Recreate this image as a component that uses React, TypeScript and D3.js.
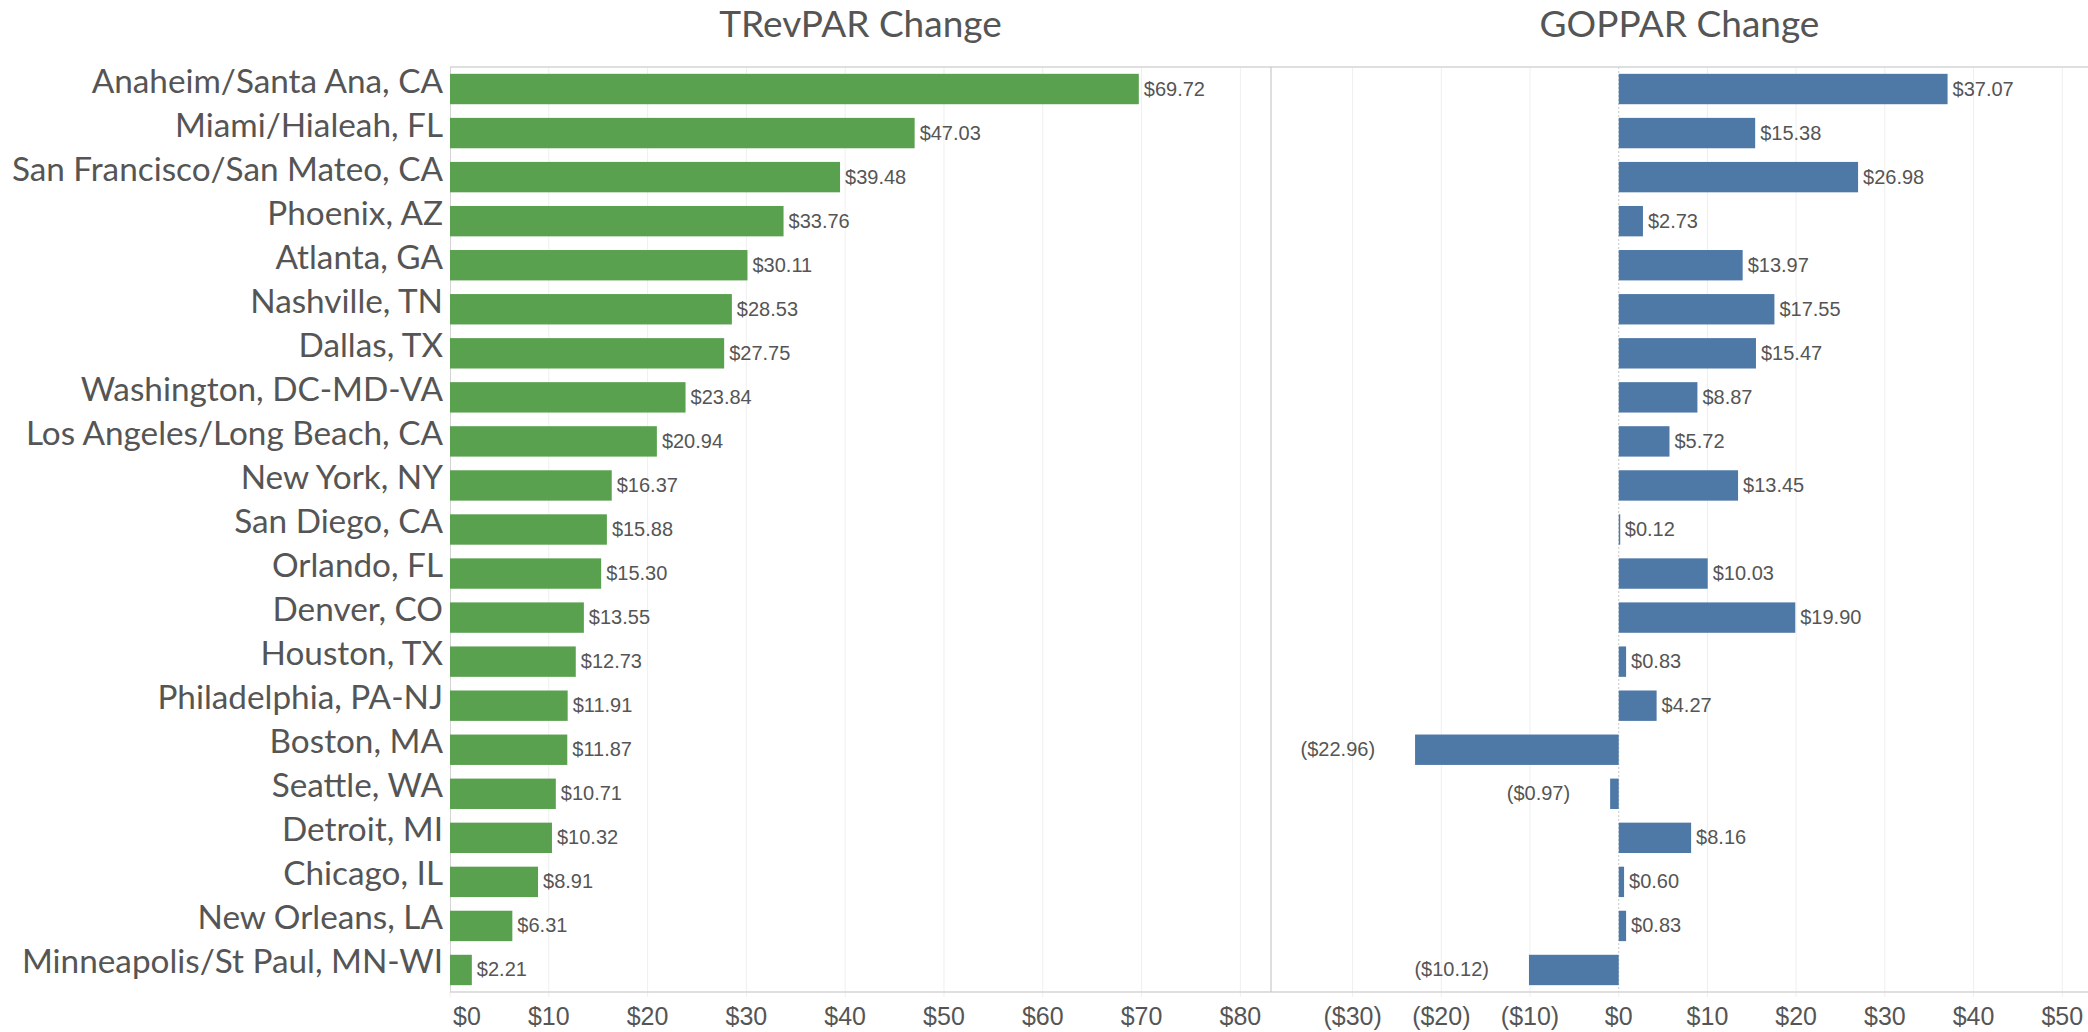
import { useMemo } from 'react';
import * as d3 from 'd3';

const MARKETS = [
  'Anaheim/Santa Ana, CA', 'Miami/Hialeah, FL', 'San Francisco/San Mateo, CA', 'Phoenix, AZ',
  'Atlanta, GA', 'Nashville, TN', 'Dallas, TX', 'Washington, DC-MD-VA', 'Los Angeles/Long Beach, CA',
  'New York, NY', 'San Diego, CA', 'Orlando, FL', 'Denver, CO', 'Houston, TX', 'Philadelphia, PA-NJ',
  'Boston, MA', 'Seattle, WA', 'Detroit, MI', 'Chicago, IL', 'New Orleans, LA', 'Minneapolis/St Paul, MN-WI',
];

const TREVPAR = [69.72, 47.03, 39.48, 33.76, 30.11, 28.53, 27.75, 23.84, 20.94, 16.37, 15.88, 15.3, 13.55, 12.73, 11.91, 11.87, 10.71, 10.32, 8.91, 6.31, 2.21];
const GOPPAR = [37.07, 15.38, 26.98, 2.73, 13.97, 17.55, 15.47, 8.87, 5.72, 13.45, 0.12, 10.03, 19.9, 0.83, 4.27, -22.96, -0.97, 8.16, 0.6, 0.83, -10.12];

const TREV_TICKS = [0, 10, 20, 30, 40, 50, 60, 70, 80];
const GOP_TICKS = [-30, -20, -10, 0, 10, 20, 30, 40, 50];

const W = 2088, H = 1032;
const TOP = 67, BOTTOM = 992;
const LEFT_X0 = 450, MID_X = 1271, RIGHT_X1 = 2088;

const TEXT = '#555555';
const GRID = '#efefef';
const BORDER = '#d4d4d4';
const NUM_FONT = "'Liberation Sans', Arial, sans-serif";

const money = (v: number, dec: number) => {
  const s = '$' + Math.abs(v).toFixed(dec);
  return v < 0 ? `(${s})` : s;
};

export default function App() {
  const y = useMemo(() => d3.scaleBand<string>().domain(MARKETS).range([TOP, BOTTOM]).paddingInner(0.31).paddingOuter(0.155), []);
  const xL = useMemo(() => d3.scaleLinear().domain([0, 83.1]).range([LEFT_X0, MID_X]), []);
  const xR = useMemo(() => d3.scaleLinear().domain([-39.2, 52.9]).range([MID_X, RIGHT_X1]), []);
  const bw = y.bandwidth();

  return (
    <svg width={W} height={H} style={{ position: 'absolute', left: 0, top: 0, background: '#fff' }}>
      {/* titles */}
      <text x={(LEFT_X0 + MID_X) / 2} y={37} textAnchor="middle" fontFamily="Lato" fontSize={37} fill={TEXT}>TRevPAR Change</text>
      <text x={(MID_X + RIGHT_X1) / 2} y={37} textAnchor="middle" fontFamily="Lato" fontSize={37} fill={TEXT}>GOPPAR Change</text>

      {/* grid lines + tick marks */}
      {TREV_TICKS.filter((t) => t > 0).map((t) => (
        <line key={'gl' + t} x1={xL(t)} x2={xL(t)} y1={TOP} y2={BOTTOM + 5} stroke={GRID} strokeWidth={1} />
      ))}
      {GOP_TICKS.filter((t) => t !== 0).map((t) => (
        <line key={'gr' + t} x1={xR(t)} x2={xR(t)} y1={TOP} y2={BOTTOM + 5} stroke={GRID} strokeWidth={1} />
      ))}
      <line x1={xR(0)} x2={xR(0)} y1={TOP} y2={BOTTOM} stroke="#c8c8c8" strokeWidth={1} strokeDasharray="2,2" />
      <line x1={xL(0)} x2={xL(0)} y1={BOTTOM} y2={BOTTOM + 5} stroke={GRID} />
      <line x1={xR(0)} x2={xR(0)} y1={BOTTOM} y2={BOTTOM + 5} stroke={GRID} />

      {/* borders */}
      <line x1={LEFT_X0} x2={RIGHT_X1} y1={TOP} y2={TOP} stroke={BORDER} strokeWidth={1.5} />
      <line x1={LEFT_X0} x2={RIGHT_X1} y1={BOTTOM} y2={BOTTOM} stroke={BORDER} strokeWidth={1.5} />
      <line x1={LEFT_X0 + 0.5} x2={LEFT_X0 + 0.5} y1={TOP} y2={BOTTOM} stroke={BORDER} strokeWidth={1} />
      <line x1={MID_X} x2={MID_X} y1={TOP} y2={BOTTOM} stroke="#c8c8c8" strokeWidth={1.2} />

      {/* category labels */}
      {MARKETS.map((m) => (
        <text key={'c' + m} x={443} y={y(m)! + bw / 2 + 3.5} textAnchor="end" fontFamily="Lato" fontSize={33.3} fill={TEXT}>{m}</text>
      ))}

      {/* TRevPAR bars */}
      {MARKETS.map((m, i) => {
        const v = TREVPAR[i];
        const yy = y(m)!;
        return (
          <g key={'l' + m}>
            <rect x={xL(0)} y={yy} width={xL(v) - xL(0)} height={bw} fill="#59a14f" />
            <text x={xL(v) + 5} y={yy + bw / 2 + 6.5} fontFamily={NUM_FONT} fontSize={20} fill={TEXT}>{money(v, 2)}</text>
          </g>
        );
      })}

      {/* GOPPAR bars */}
      {MARKETS.map((m, i) => {
        const v = GOPPAR[i];
        const yy = y(m)!;
        const x0 = Math.min(xR(0), xR(v));
        const neg = v < 0;
        return (
          <g key={'r' + m}>
            <rect x={x0} y={yy} width={Math.max(Math.abs(xR(v) - xR(0)), 1.5)} height={bw} fill="#4e79a7" />
            <text x={neg ? xR(v) - 40 : xR(v) + 5} y={yy + bw / 2 + 6.5} textAnchor={neg ? 'end' : 'start'}
              fontFamily={NUM_FONT} fontSize={20} fill={TEXT}>{money(v, 2)}</text>
          </g>
        );
      })}

      {/* axis tick labels; the first left label is kept inside the pane */}
      {TREV_TICKS.map((t) => (
        <text key={'tl' + t} x={t === 0 ? xL(t) + 3 : xL(t)} y={1025} textAnchor={t === 0 ? 'start' : 'middle'}
          fontFamily={NUM_FONT} fontSize={25} fill={TEXT}>{money(t, 0)}</text>
      ))}
      {GOP_TICKS.map((t) => (
        <text key={'tr' + t} x={xR(t)} y={1025} textAnchor="middle" fontFamily={NUM_FONT} fontSize={25} fill={TEXT}>{money(t, 0)}</text>
      ))}
    </svg>
  );
}
